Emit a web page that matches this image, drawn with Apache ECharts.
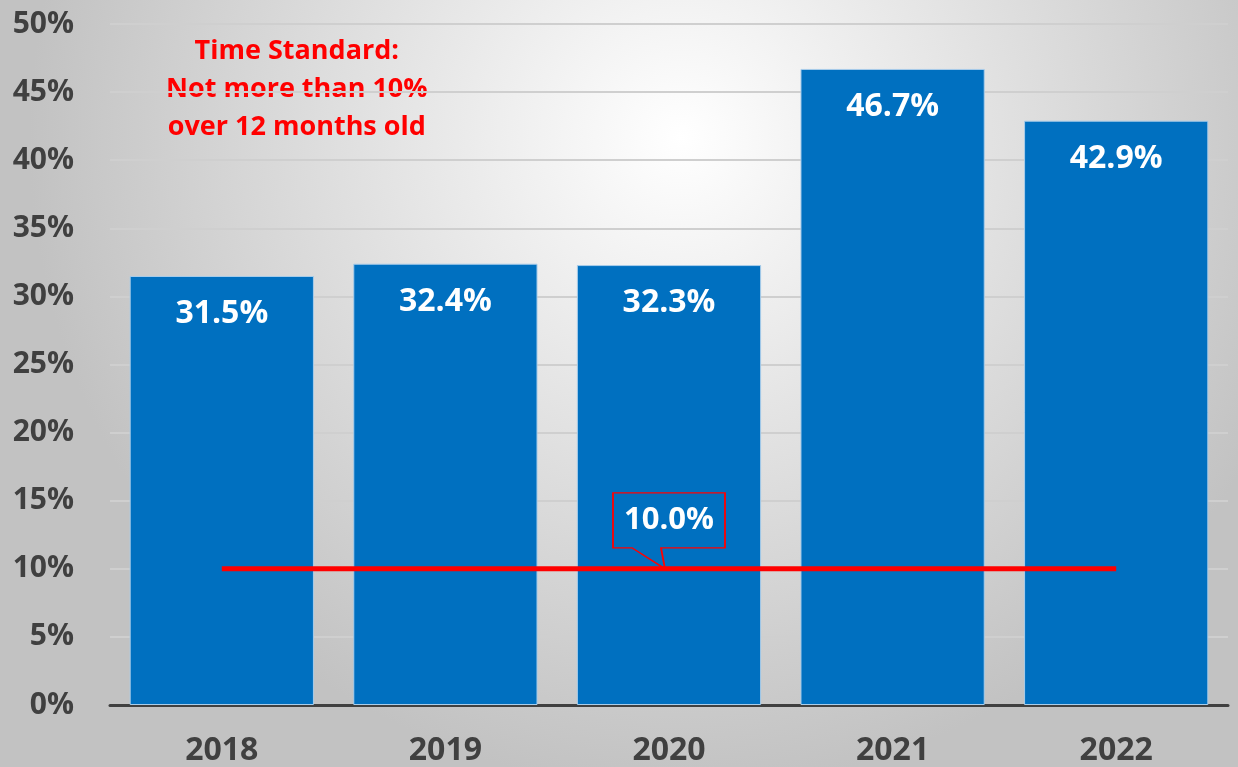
<!DOCTYPE html>
<html>
<head>
<meta charset="utf-8">
<script src="https://cdn.jsdelivr.net/npm/echarts@6/dist/echarts.min.js"></script>
<style>
  html, body { margin: 0; padding: 0; }
  #main { width: 1238px; height: 767px; }
</style>
</head>
<body>
<div id="main"></div>
<script>
// data
const years = ["2018", "2019", "2020", "2021", "2022"];
const shareOld = [31.5, 32.4, 32.3, 46.7, 42.9];
const standard = [10, 10, 10, 10, 10];
const noteLines = ["Time Standard:", "Not more than 10%", "over 12 months old"];

const FONT = "Open Sans";
const GREY = "#404040";

var myChart = echarts.init(document.getElementById("main"));

var option = {
    backgroundColor: {
        type: "radial",
        x: 0.55, y: 0.18, r: 0.85,
        colorStops: [
            { offset: 0, color: "#ffffff" },
            { offset: 1, color: "#c2c2c2" }
        ]
    },
    animation: false,
    grid: { left: 110, right: 10, top: 24, bottom: 62 },
    xAxis: {
        type: "category",
        data: years,
        axisTick: { show: false },
        axisLine: { lineStyle: { color: GREY, width: 3 } },
        axisLabel: {
            color: GREY, fontFamily: FONT, fontWeight: "bold", fontSize: 32, margin: 30
        }
    },
    yAxis: {
        type: "value",
        min: 0, max: 50, interval: 5,
        axisLine: { show: false },
        axisTick: { show: false },
        splitLine: { lineStyle: { color: "#cfcfcf", width: 2 } },
        axisLabel: {
            color: GREY, fontFamily: FONT, fontWeight: "bold", fontSize: 30, margin: 36,
            formatter: "{value}%"
        }
    },
    graphic: [{
        type: "text",
        left: 166, top: 32,
        style: {
            text: noteLines.join("\n"),
            fill: "#ff0000",
            font: "bold 27px '" + FONT + "'",
            textAlign: "center",
            lineHeight: 38
        }
    }],
    series: [
        {
            type: "bar",
            data: shareOld,
            barCategoryGap: "17.6%",
            itemStyle: { color: "#0070c0", borderColor: "#a9cdea", borderWidth: 1 },
            label: {
                show: true,
                position: "insideTop",
                distance: 22,
                color: "#ffffff",
                fontFamily: FONT, fontWeight: "bold", fontSize: 32,
                formatter: (p) => p.value.toFixed(1) + "%"
            }
        },
        {
            type: "line",
            data: standard,
            symbol: "none",
            lineStyle: { color: "#ff0000", width: 5 },
            z: 5,
            markPoint: {
                symbol: "path://M0 0 L112 0 L112 55 L48 55 L52 76 L19 55 L0 55 Z",
                symbolSize: [112, 76],
                symbolKeepAspect: false,
                symbolOffset: [0, -38],
                itemStyle: { color: "rgba(0,0,0,0)", borderColor: "#ff0000", borderWidth: 1.5 },
                label: {
                    show: true,
                    position: "inside",
                    offset: [0, -11],
                    color: "#ffffff",
                    fontFamily: FONT, fontWeight: "bold", fontSize: 31,
                    formatter: (p) => p.value.toFixed(1) + "%"
                },
                data: [{ coord: ["2020", 10], value: 10 }]
            }
        }
    ]
};
myChart.setOption(option);
</script>
</body>
</html>
